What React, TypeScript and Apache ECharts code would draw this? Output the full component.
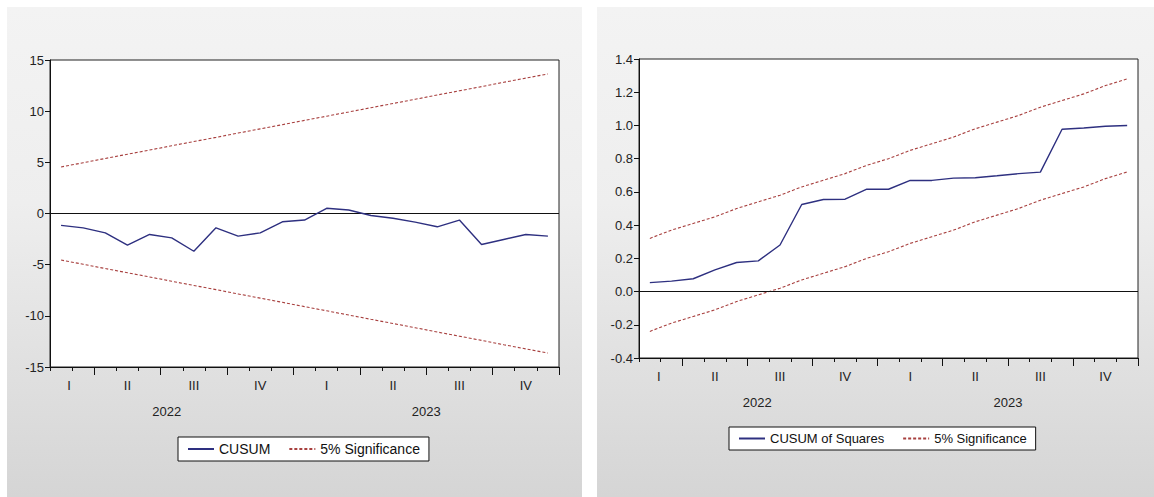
import React, { useEffect, useRef } from 'react';
import * as echarts from 'echarts';

// ---- data ----
const months = [
  '2022-02', '2022-03', '2022-04', '2022-05', '2022-06', '2022-07', '2022-08', '2022-09', '2022-10', '2022-11', '2022-12',
  '2023-01', '2023-02', '2023-03', '2023-04', '2023-05', '2023-06', '2023-07', '2023-08', '2023-09', '2023-10', '2023-11', '2023-12',
];
const quarterLabels = ['I', '', '', 'II', '', '', 'III', '', '', 'IV', '', '', 'I', '', '', 'II', '', '', 'III', '', '', 'IV', ''];
const quarterStartIdx = [2, 5, 8, 11, 14, 17, 20];
const yearLabels = ['', '', '', '', '', '2022', '', '', '', '', '', '', '', '', '', '', '2023', '', '', '', '', '', ''];

const cusum = [-1.16, -1.4, -1.89, -3.1, -2.05, -2.38, -3.69, -1.4, -2.21, -1.89, -0.81, -0.64, 0.51, 0.34, -0.2, -0.47, -0.84, -1.3, -0.64, -3.03, -2.54, -2.05, -2.21];
const cusumUpper = [4.55, 4.96, 5.38, 5.79, 6.2, 6.62, 7.03, 7.44, 7.86, 8.27, 8.68, 9.1, 9.51, 9.92, 10.34, 10.75, 11.16, 11.58, 11.99, 12.4, 12.82, 13.23, 13.64];
const cusumLower = [-4.55, -4.96, -5.38, -5.79, -6.2, -6.62, -7.03, -7.44, -7.86, -8.27, -8.68, -9.1, -9.51, -9.92, -10.34, -10.75, -11.16, -11.58, -11.99, -12.4, -12.82, -13.23, -13.64];

const cusumSq = [0.054, 0.063, 0.077, 0.13, 0.175, 0.185, 0.28, 0.524, 0.554, 0.556, 0.616, 0.616, 0.669, 0.669, 0.683, 0.685, 0.697, 0.71, 0.719, 0.977, 0.985, 0.995, 1.0];
const sqUpper = [0.32, 0.37, 0.41, 0.45, 0.5, 0.54, 0.58, 0.63, 0.67, 0.71, 0.76, 0.8, 0.85, 0.89, 0.93, 0.98, 1.02, 1.06, 1.11, 1.15, 1.19, 1.24, 1.28];
const sqLower = [-0.24, -0.19, -0.15, -0.11, -0.06, -0.02, 0.02, 0.07, 0.11, 0.15, 0.2, 0.24, 0.29, 0.33, 0.37, 0.42, 0.46, 0.5, 0.55, 0.59, 0.63, 0.68, 0.72];

const FONT = '"Liberation Sans", Arial, sans-serif';
const LINE_COLOR = '#2e3080';
const SIG_COLOR = '#a8403f';

type PanelCfg = {
  grid: { left: number; top: number; width: number; height: number };
  legend: { left: number; top: number; fontSize: number };
  mainName: string;
  main: number[];
  upper: number[];
  lower: number[];
  yMin: number;
  yMax: number;
  yInterval: number;
  yFmt: (v: number) => string;
  firstQShift: number;
  year1Shift: number;
  year2Shift: number;
};

function buildOption(c: PanelCfg): any {
  const pad = (s: number) => (s >= 0 ? [0, 0, 0, 2 * s] : [0, -2 * s, 0, 0]);
  const axisColor = '#111';
  return {
    animation: false,
    textStyle: { fontFamily: FONT },
    grid: { ...c.grid, show: true, backgroundColor: '#ffffff', borderColor: '#222', borderWidth: 1, containLabel: false },
    legend: {
      left: c.legend.left,
      top: c.legend.top,
      orient: 'horizontal',
      itemWidth: 26,
      itemHeight: 10,
      itemGap: 18,
      padding: [5, 9, 5, 9],
      borderColor: '#111',
      borderWidth: 1,
      borderRadius: 0,
      backgroundColor: '#ffffff',
      itemStyle: { opacity: 0, borderWidth: 0 },
      textStyle: { fontSize: c.legend.fontSize, color: '#111', fontFamily: FONT },
      data: [c.mainName, '5% Significance'],
    },
    xAxis: [
      {
        type: 'category',
        data: months,
        boundaryGap: true,
        position: 'bottom',
        axisLine: { show: true, onZero: false, lineStyle: { color: axisColor, width: 1 } },
        axisTick: { show: true, interval: 0, length: 4, lineStyle: { color: axisColor } },
        splitLine: { show: false },
        axisLabel: {
          interval: 0,
          margin: 12,
          color: '#222',
          fontSize: 13,
          fontFamily: FONT,
          formatter: (_v: string, i: number) =>
            quarterLabels[i] ? (i === 0 ? `{s|${quarterLabels[i]}}` : quarterLabels[i]) : '',
          rich: { s: { padding: pad(c.firstQShift), fontSize: 13, color: '#222', fontFamily: FONT } },
        },
      },
      {
        type: 'category',
        data: months,
        boundaryGap: true,
        position: 'bottom',
        offset: 0,
        axisLine: { show: false, onZero: false },
        axisTick: {
          show: true,
          interval: (i: number) => quarterStartIdx.includes(i),
          length: 8,
          lineStyle: { color: axisColor },
        },
        splitLine: { show: false },
        axisLabel: {
          interval: 0,
          margin: 38,
          color: '#222',
          fontSize: 13,
          fontFamily: FONT,
          formatter: (_v: string, i: number) =>
            yearLabels[i] ? (i === 5 ? `{a|${yearLabels[i]}}` : `{b|${yearLabels[i]}}`) : '',
          rich: {
            a: { padding: pad(c.year1Shift), fontSize: 13, color: '#222', fontFamily: FONT },
            b: { padding: pad(c.year2Shift), fontSize: 13, color: '#222', fontFamily: FONT },
          },
        },
      },
    ],
    yAxis: {
      type: 'value',
      min: c.yMin,
      max: c.yMax,
      interval: c.yInterval,
      axisLine: { show: true, onZero: false, lineStyle: { color: axisColor } },
      axisTick: { show: true, length: 5, lineStyle: { color: axisColor } },
      splitLine: { show: false },
      axisLabel: { color: '#222', fontSize: 13, margin: 6, fontFamily: FONT, formatter: c.yFmt },
    },
    series: [
      {
        name: c.mainName,
        type: 'line',
        data: c.main,
        symbol: 'none',
        lineStyle: { color: LINE_COLOR, width: 1.4 },
        itemStyle: { color: LINE_COLOR },
        z: 5,
        markLine: {
          silent: true,
          symbol: ['none', 'none'],
          label: { show: false },
          lineStyle: { color: '#111', type: 'solid', width: 1 },
          data: [{ yAxis: 0 }],
        },
      },
      {
        name: '5% Significance',
        type: 'line',
        data: c.upper,
        symbol: 'none',
        lineStyle: { color: SIG_COLOR, width: 1.1, type: [3, 2] },
        itemStyle: { color: SIG_COLOR },
      },
      {
        name: '5% Significance',
        type: 'line',
        data: c.lower,
        symbol: 'none',
        lineStyle: { color: SIG_COLOR, width: 1.1, type: [3, 2] },
        itemStyle: { color: SIG_COLOR },
      },
    ],
  };
}

const leftCfg: PanelCfg = {
  grid: { left: 43, top: 53, width: 509, height: 307 },
  legend: { left: 171, top: 430, fontSize: 14 },
  mainName: 'CUSUM',
  main: cusum,
  upper: cusumUpper,
  lower: cusumLower,
  yMin: -15,
  yMax: 15,
  yInterval: 5,
  yFmt: (v: number) => String(Math.round(v)),
  firstQShift: 8,
  year1Shift: -5,
  year2Shift: 11,
};

const rightCfg: PanelCfg = {
  grid: { left: 42, top: 52, width: 499, height: 299 },
  legend: { left: 132, top: 420, fontSize: 13 },
  mainName: 'CUSUM of Squares',
  main: cusumSq,
  upper: sqUpper,
  lower: sqLower,
  yMin: -0.4,
  yMax: 1.4,
  yInterval: 0.2,
  yFmt: (v: number) => v.toFixed(1),
  firstQShift: 9,
  year1Shift: -1,
  year2Shift: 11,
};

function Panel({ cfg, style }: { cfg: PanelCfg; style: React.CSSProperties }) {
  const ref = useRef<HTMLDivElement>(null);
  useEffect(() => {
    if (!ref.current) return;
    const chart = echarts.init(ref.current, undefined, { renderer: 'svg' });
    chart.setOption(buildOption(cfg));
    return () => chart.dispose();
  }, [cfg]);
  return <div ref={ref} style={style} />;
}

const panelBg = 'linear-gradient(to bottom, #f3f3f3 0%, #eeeeee 40%, #d5d5d5 100%)';

export default function App() {
  return (
    <div style={{ position: 'fixed', left: 0, top: 0, width: 1154, height: 497, background: '#ffffff', overflow: 'hidden' }}>
      <Panel cfg={leftCfg} style={{ position: 'absolute', left: 7, top: 7, width: 575, height: 490, background: panelBg }} />
      <Panel cfg={rightCfg} style={{ position: 'absolute', left: 597, top: 7, width: 557, height: 490, background: panelBg }} />
    </div>
  );
}
